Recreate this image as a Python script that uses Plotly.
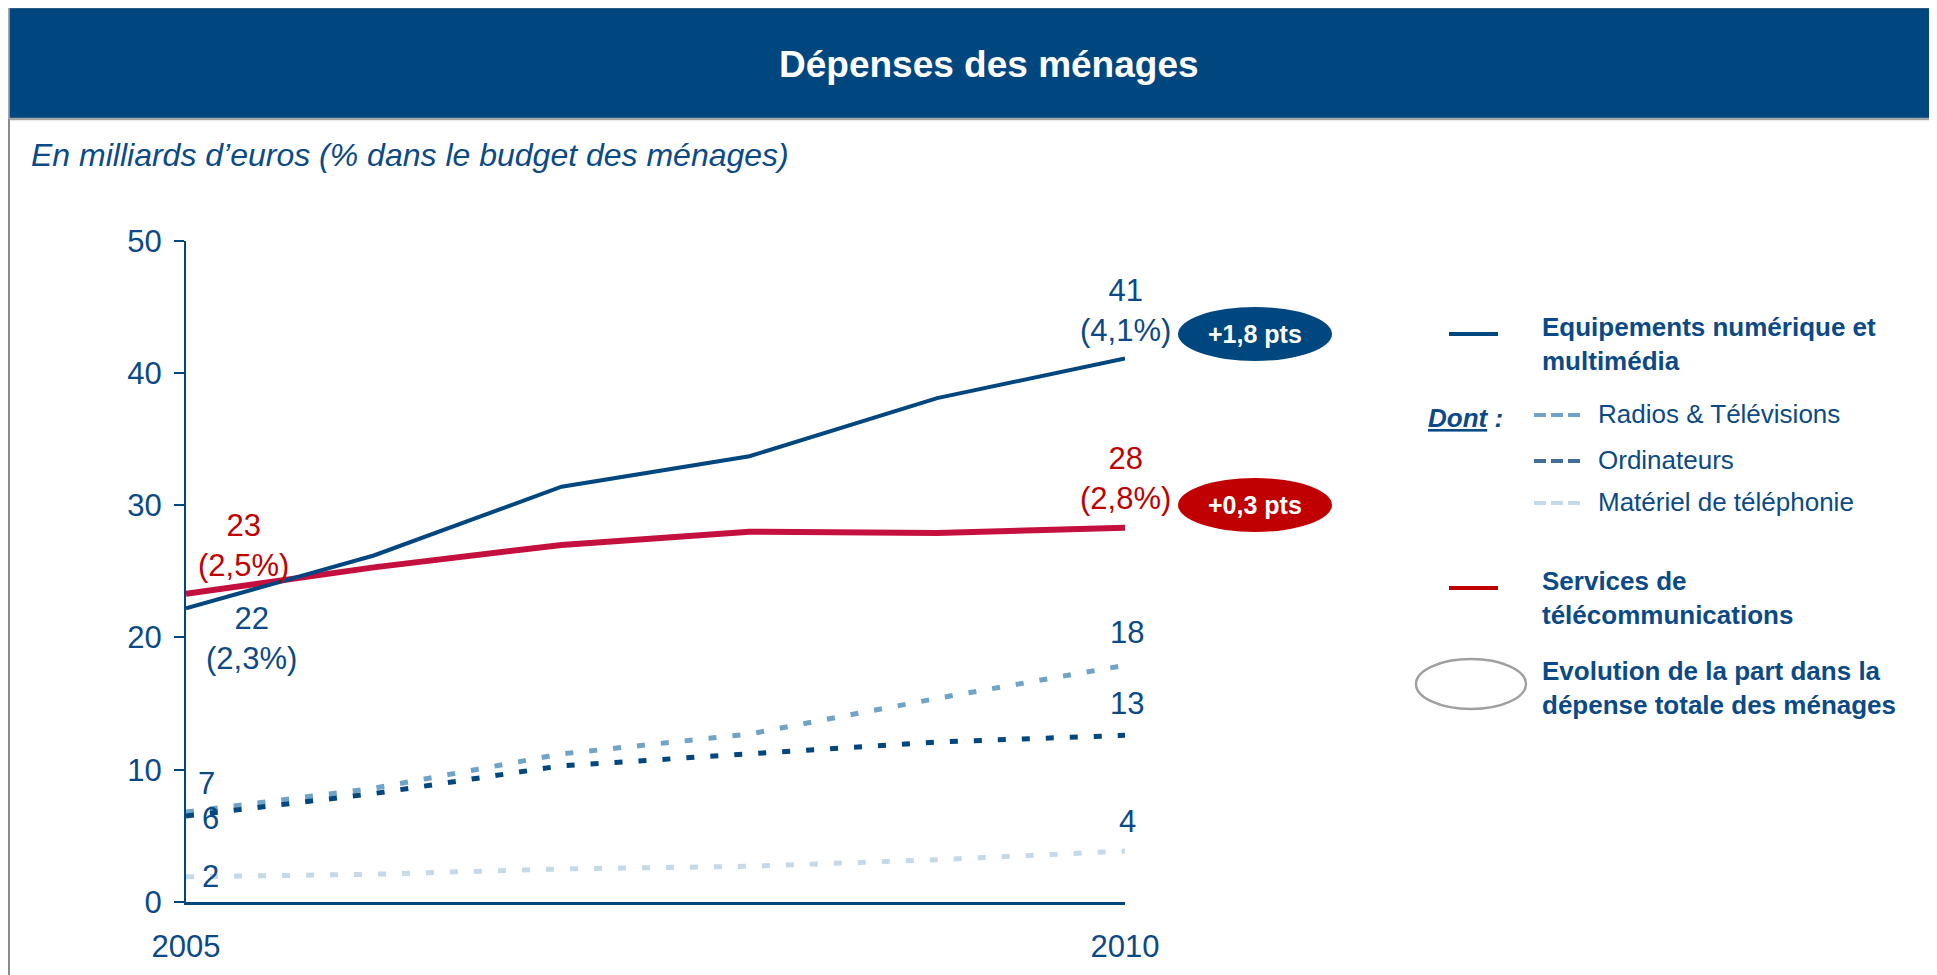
import plotly.graph_objects as go

# ---------------- data ----------------
years = [2005, 2006, 2007, 2008, 2009, 2010]
equipements = [22.2, 26.2, 31.4, 33.7, 38.1, 41.1]
services = [23.3, 25.3, 27.0, 28.0, 27.9, 28.3]
radios_tv = [6.8, 8.6, 11.2, 12.7, 15.4, 17.9]
ordinateurs = [6.5, 8.2, 10.3, 11.2, 12.1, 12.6]
telephonie = [1.9, 2.1, 2.5, 2.7, 3.2, 3.85]

series_names = ["Equipements numérique et multimédia", "Services de télécommunications",
                "Radios & Télévisions", "Ordinateurs", "Matériel de téléphonie"]

equip_labels = ["22<br>(2,3%)", "41<br>(4,1%)"]
services_labels = ["23<br>(2,5%)", "28<br>(2,8%)"]
radios_labels = ["7", "18"]
ordis_labels = ["6", "13"]
tel_labels = ["2", "4"]
share_changes = ["+1,8 pts", "+0,3 pts"]

y_ticks = [0, 10, 20, 30, 40, 50]
x_ticks = [2005, 2010]
x_ticktext = ["2005", "2010"]

title_text = "Dépenses des ménages"
subtitle_text = "En milliards d’euros (% dans le budget des ménages)"

# ---------------- style ----------------
PAGE_W, PAGE_H = 1937, 975
OFF = 8  # page body margin
W, H = PAGE_W - OFF, PAGE_H - OFF
FONT = "Arial, Liberation Sans, sans-serif"
BLUE = "#00467f"
TXT_BLUE = "#0b4a86"
RED_LINE = "#c4103f"
RED = "#c00000"
RADIO_C = "#6fa3c8"
ORDI_C = "#00467f"
TEL_C = "#c5d9e8"
GRAY = "#8c8c8c"


def px(x):
    return (x - OFF) / W


def py(y):
    return 1 - (y - OFF) / H


fig = go.Figure()

dash_style = "8px,16px"
fig.add_trace(go.Scatter(x=years, y=telephonie, mode="lines", name=series_names[4],
                         line=dict(color=TEL_C, width=5, dash=dash_style)))
fig.add_trace(go.Scatter(x=years, y=radios_tv, mode="lines", name=series_names[2],
                         line=dict(color=RADIO_C, width=5, dash=dash_style)))
fig.add_trace(go.Scatter(x=years, y=ordinateurs, mode="lines", name=series_names[3],
                         line=dict(color=ORDI_C, width=5, dash=dash_style)))
fig.add_trace(go.Scatter(x=years, y=services, mode="lines", name=series_names[1],
                         line=dict(color=RED_LINE, width=6)))
fig.add_trace(go.Scatter(x=years, y=equipements, mode="lines", name=series_names[0],
                         line=dict(color=BLUE, width=4)))

annotations = []


def data_label(x, y, text, color, xshift, yshift):
    annotations.append(dict(x=x, y=y, xref="x", yref="y", text=text, showarrow=False,
                            xanchor="center", yanchor="middle", xshift=xshift, yshift=yshift,
                            font=dict(family=FONT, size=31, color=color)))


data_label(years[0], equipements[0], equip_labels[0], TXT_BLUE, 65, -30)
data_label(years[-1], equipements[-1], equip_labels[1], TXT_BLUE, 0, 48)
data_label(years[0], services[0], services_labels[0], RED, 57, 48)
data_label(years[-1], services[-1], services_labels[1], RED, 0, 49)
data_label(years[0], radios_tv[0], radios_labels[0], TXT_BLUE, 20, 29)
data_label(years[-1], radios_tv[-1], radios_labels[1], TXT_BLUE, 2, 33)
data_label(years[0], ordinateurs[0], ordis_labels[0], TXT_BLUE, 24, -2)
data_label(years[-1], ordinateurs[-1], ordis_labels[1], TXT_BLUE, 2, 32)
data_label(years[0], telephonie[0], tel_labels[0], TXT_BLUE, 24, 0)
data_label(years[-1], telephonie[-1], tel_labels[1], TXT_BLUE, 2, 30)

shapes = []
# header band & frame
shapes.append(dict(type="rect", xref="paper", yref="paper", x0=px(8.5), x1=px(1935), y0=py(7), y1=py(119),
                   fillcolor=BLUE, line=dict(color="#a6a6a6", width=2.5), layer="below"))
shapes.append(dict(type="line", xref="paper", yref="paper", x0=px(8.5), x1=px(8.5), y0=py(119), y1=py(PAGE_H + 5),
                   line=dict(color=GRAY, width=3)))
shapes.append(dict(type="line", xref="paper", yref="paper", x0=px(1935), x1=px(1935), y0=py(119), y1=py(PAGE_H + 5),
                   line=dict(color=GRAY, width=3)))

annotations.append(dict(x=px(989), y=py(65), xref="paper", yref="paper", text="<b>" + title_text + "</b>",
                        showarrow=False, xanchor="center", yanchor="middle",
                        font=dict(family=FONT, size=37, color="white")))
annotations.append(dict(x=px(29), y=py(155), xref="paper", yref="paper", text="<i>" + subtitle_text + "</i>",
                        showarrow=False, xanchor="left", yanchor="middle",
                        font=dict(family=FONT, size=32, color=TXT_BLUE)))

# share change badges
for (cy, col, txt) in [(334, BLUE, share_changes[0]), (505, RED, share_changes[1])]:
    shapes.append(dict(type="circle", xref="paper", yref="paper", x0=px(1178), x1=px(1332),
                       y0=py(cy - 27), y1=py(cy + 27), fillcolor=col, line=dict(width=0)))
    annotations.append(dict(x=px(1255), y=py(cy), xref="paper", yref="paper", text="<b>" + txt + "</b>",
                            showarrow=False, xanchor="center", yanchor="middle",
                            font=dict(family=FONT, size=25, color="white")))

# legend (manual)
LEG = 26
shapes.append(dict(type="line", xref="paper", yref="paper", x0=px(1449), x1=px(1498), y0=py(334), y1=py(334),
                   line=dict(color=BLUE, width=4)))
annotations.append(dict(x=px(1540), y=py(344), xref="paper", yref="paper",
                        text="<b>Equipements numérique et<br>multimédia</b>", showarrow=False,
                        xanchor="left", yanchor="middle", align="left",
                        font=dict(family=FONT, size=LEG, color=TXT_BLUE)))
annotations.append(dict(x=px(1426), y=py(418), xref="paper", yref="paper",
                        text="<b><i><u>Dont</u> :</i></b>", showarrow=False,
                        xanchor="left", yanchor="middle",
                        font=dict(family=FONT, size=LEG, color=TXT_BLUE)))
for (yy, col, name) in [(415, RADIO_C, series_names[2]), (461, "#3f6f96", series_names[3]),
                        (503, TEL_C, series_names[4])]:
    shapes.append(dict(type="line", xref="paper", yref="paper", x0=px(1534), x1=px(1583), y0=py(yy), y1=py(yy),
                       line=dict(color=col, width=4, dash="12px,5px")))
    annotations.append(dict(x=px(1596), y=py(yy - 1), xref="paper", yref="paper", text=name,
                            showarrow=False, xanchor="left", yanchor="middle",
                            font=dict(family=FONT, size=LEG, color=TXT_BLUE)))
shapes.append(dict(type="line", xref="paper", yref="paper", x0=px(1449), x1=px(1498), y0=py(588), y1=py(588),
                   line=dict(color=RED, width=4)))
annotations.append(dict(x=px(1540), y=py(598), xref="paper", yref="paper",
                        text="<b>Services de<br>télécommunications</b>", showarrow=False,
                        xanchor="left", yanchor="middle", align="left",
                        font=dict(family=FONT, size=LEG, color=TXT_BLUE)))
shapes.append(dict(type="circle", xref="paper", yref="paper", x0=px(1416), x1=px(1526), y0=py(659), y1=py(709),
                   line=dict(color="#a0a0a0", width=2.5), fillcolor="rgba(0,0,0,0)"))
annotations.append(dict(x=px(1540), y=py(688), xref="paper", yref="paper",
                        text="<b>Evolution de la part dans la<br>dépense totale des ménages</b>", showarrow=False,
                        xanchor="left", yanchor="middle", align="left",
                        font=dict(family=FONT, size=LEG, color=TXT_BLUE)))

fig.update_layout(
    width=W, height=H,
    margin=dict(l=0, r=0, t=0, b=0, pad=0, autoexpand=False),
    paper_bgcolor="white", plot_bgcolor="white",
    showlegend=False,
    shapes=shapes,
    annotations=annotations,
    font=dict(family=FONT, color=TXT_BLUE),
    xaxis=dict(domain=[px(186), px(1125)], range=[2005, 2010], tickvals=x_ticks, ticktext=x_ticktext,
               showgrid=False, zeroline=False, showline=True, linecolor=BLUE, linewidth=3, automargin=False,
               ticks="", tickfont=dict(family=FONT, size=31, color=TXT_BLUE), ticklabelstandoff=15),
    yaxis=dict(domain=[py(902), py(240.7)], range=[0, 50], tickvals=y_ticks, automargin=False,
               showgrid=False, zeroline=False, showline=True, linecolor=BLUE, linewidth=2,
               ticks="outside", ticklen=10, tickwidth=2, tickcolor=BLUE,
               tickfont=dict(family=FONT, size=31, color=TXT_BLUE), ticklabelstandoff=6),
)

fig.write_html("out.html")
